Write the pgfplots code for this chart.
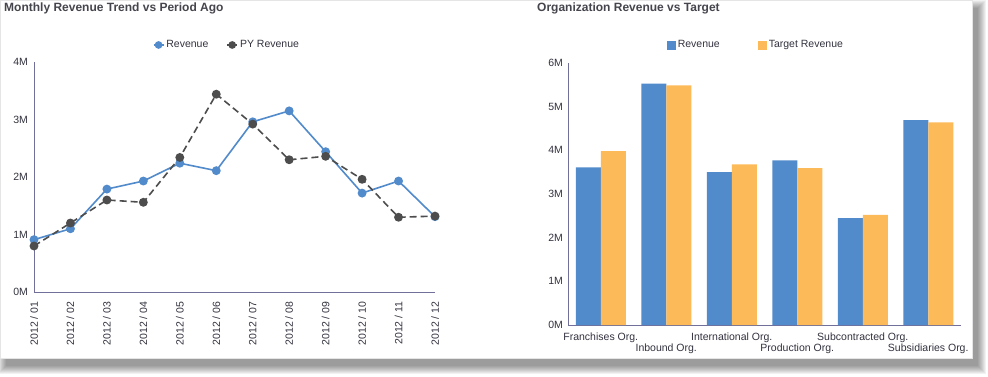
\documentclass[border=0pt]{standalone}
\usepackage{pgfplots}
\pgfplotsset{compat=1.18}
\usepackage{fontspec}
\setmainfont{Liberation Sans}
\definecolor{rev}{HTML}{528BCB}
\definecolor{tgt}{HTML}{FDBA59}
\definecolor{py}{HTML}{4D4D4D}
\definecolor{axcol}{HTML}{70709A}
\definecolor{txt}{HTML}{333340}
\definecolor{ttl}{HTML}{45454D}
\begin{document}
\begin{tikzpicture}[x=1pt,y=1pt]
\useasboundingbox (0,0) rectangle (988,376);
\fill[white] (0,0) rectangle (988,376);
\foreach \r in {0,1,...,8} \fill[black,opacity=0.05] (6-\r,10-\r) rectangle (978+\r,368+\r);
\fill[white] (0,18) rectangle (972,376);
\draw[gray!20] (0,18) rectangle (972,376);
\node[anchor=base west, font=\bfseries\fontsize{12}{14}\selectfont, text=ttl, inner sep=0] at (4,365) {Monthly Revenue Trend vs Period Ago};
\node[anchor=base west, font=\bfseries\fontsize{12}{14}\selectfont, text=ttl, inner sep=0] at (537,365) {Organization Revenue vs Target};

\begin{axis}[at={(34pt,84pt)}, anchor=south west, scale only axis,
  width=401pt, height=230pt,
  xmin=0, xmax=11, ymin=0, ymax=4, enlargelimits=false,
  axis lines=left, axis line style={draw=axcol, line width=0.8pt, -},
  major tick length=0pt, tick style={draw=none},
  ytick={0,1,2,3,4}, yticklabels={0M,1M,2M,3M,4M},
  xtick={0,...,11},
  xticklabels={2012 / 01,2012 / 02,2012 / 03,2012 / 04,2012 / 05,2012 / 06,2012 / 07,2012 / 08,2012 / 09,2012 / 10,2012 / 11,2012 / 12},
  ticklabel style={font=\fontsize{10.5}{12}\selectfont, text=txt},
  xticklabel style={yshift=-6pt, rotate=90, anchor=east},
  yticklabel style={xshift=-2.5pt},
  clip=false,
  legend style={at={(0.481,1.074)}, anchor=center, draw=none, fill=none,
    font=\fontsize{10.5}{12}\selectfont, text=txt,
    /tikz/every even column/.append style={column sep=16pt}},
  legend columns=2, legend cell align=left,
  legend image code/.code={\draw[mark repeat=2,mark phase=2,#1,solid,mark size=3pt] plot coordinates {(0pt,0pt)(5pt,0pt)(10pt,0pt)};},
]
\addplot[rev, line width=1.6pt, mark=*, mark size=3.6pt, mark options={solid}] coordinates {
(0,0.91) (1,1.10) (2,1.79) (3,1.93) (4,2.24) (5,2.11) (6,2.96) (7,3.15) (8,2.44) (9,1.72) (10,1.93) (11,1.31)};
\addlegendentry{Revenue}
\addplot[py, line width=1.6pt, dash pattern=on 7pt off 4pt, mark=*, mark size=3.6pt, mark options={solid}] coordinates {
(0,0.80) (1,1.20) (2,1.60) (3,1.56) (4,2.34) (5,3.44) (6,2.92) (7,2.30) (8,2.36) (9,1.96) (10,1.30) (11,1.32)};
\addlegendentry{PY Revenue}
\end{axis}

\begin{axis}[at={(568pt,51pt)}, anchor=south west, scale only axis,
  width=393pt, height=262pt,
  xmin=-0.5, xmax=5.5, ymin=0, ymax=6, enlargelimits=false,
  ybar=0pt, bar width=25pt,
  axis lines=left, axis line style={draw=axcol, line width=0.8pt, -},
  major tick length=0pt, tick style={draw=none},
  ytick={0,1,2,3,4,5,6}, yticklabels={0M,1M,2M,3M,4M,5M,6M},
  xtick={0,...,5},
  xticklabels={Franchises Org., {\vphantom{Ag}\\Inbound Org.}, International Org., {\vphantom{Ag}\\Production Org.}, Subcontracted Org., {\vphantom{Ag}\\Subsidiaries Org.}},
  ticklabel style={font=\fontsize{10.5}{11}\selectfont, text=txt},
  xticklabel style={align=center, anchor=north, yshift=-4.5pt},
  yticklabel style={xshift=-1.5pt},
  legend style={at={(0.478,1.0687)}, anchor=center, draw=none, fill=none,
    font=\fontsize{10.5}{12}\selectfont, text=txt,
    /tikz/every even column/.append style={column sep=36pt}},
  legend columns=2, legend cell align=left,
  legend image code/.code={\fill[#1] (0pt,-4.5pt) rectangle (9pt,4.5pt);},
]
\addplot[fill=rev, draw=none] coordinates {(0,3.61) (1,5.53) (2,3.50) (3,3.77) (4,2.45) (5,4.69)};
\addlegendentry{Revenue}
\addplot[fill=tgt, draw=none] coordinates {(0,3.98) (1,5.49) (2,3.68) (3,3.59) (4,2.52) (5,4.64)};
\addlegendentry{Target Revenue}
\end{axis}
\end{tikzpicture}
\end{document}
